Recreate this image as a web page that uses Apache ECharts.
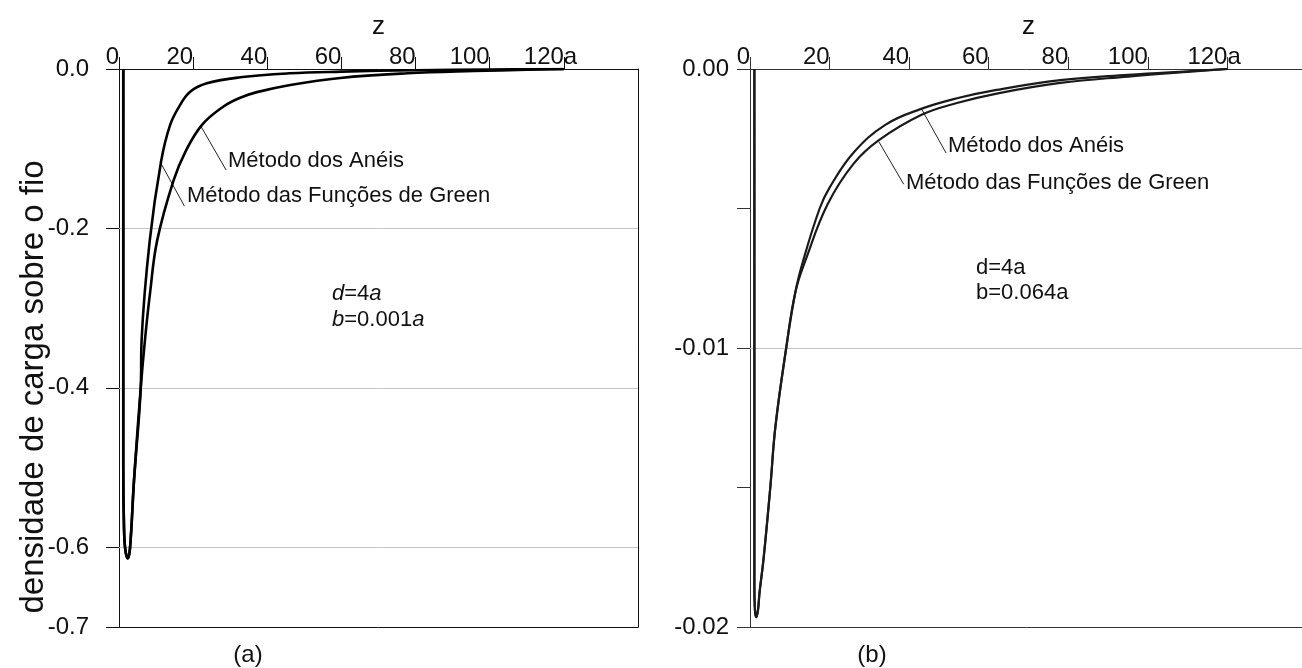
<!DOCTYPE html>
<html>
<head>
<meta charset="utf-8">
<script src="https://cdn.jsdelivr.net/npm/echarts@6/dist/echarts.min.js"></script>
<style>
  html, body { margin: 0; padding: 0; background: #fff; }
  #chart { width: 1302px; height: 668px; }
</style>
</head>
<body>
<div id="chart"></div>
<script>
// eixo z (comum aos dois painéis)
const zTicks = [0, 20, 40, 60, 80, 100, 120];
const zUnitAt = 120; // rótulo "120a"

// painel (a): b = 0.001a
const leftYLabels = [0, -0.2, -0.4, -0.6, -0.7];
const leftGridLines = [-0.2, -0.4, -0.6];
const leftHeadZ = [1.15, 1.15, 1.35, 1.7, 2.35, 2.97, 4.05, 5.86];
const leftHeadV = [0, -0.5, -0.575, -0.603, -0.614, -0.601, -0.516, -0.40];
const leftAneisZ = [7.0, 8.4, 10.3, 14.7, 18, 22.4, 28.2, 32.7, 37.2, 46.2, 59.7, 77.8, 95.7, 110, 120];
const leftAneisV = [-0.34, -0.28, -0.215, -0.140, -0.103, -0.070, -0.047, -0.036, -0.029, -0.020, -0.0112, -0.0054, -0.0025, -0.001, 0];
const leftGreenZ = [6.1, 8.3, 11.35, 13.8, 16.5, 19.2, 23.7, 32.7, 46, 60, 80, 100, 120];
const leftGreenV = [-0.34, -0.215, -0.116, -0.070, -0.045, -0.0285, -0.018, -0.0104, -0.0054, -0.0033, -0.0015, -0.0006, 0];

// painel (b): b = 0.064a
const rightYTicks = [0, -0.005, -0.01, -0.015, -0.02];
const rightYLabels = [0, -0.01, -0.02];
const rightGridLines = [-0.005, -0.01, -0.015];
const rightHeadZ = [1.1, 1.1, 1.25, 1.55, 2.0, 2.4, 3.4, 5.1, 6.4, 9.1, 11.4];
const rightHeadV = [0, -0.0185, -0.0194, -0.01965, -0.0194, -0.01876, -0.01757, -0.0150, -0.0128, -0.0100, -0.0080];
const rightAneisZ = [13.3, 17.5, 20, 26, 34, 43, 52, 62, 78, 95, 110, 120];
const rightAneisV = [-0.0069, -0.0050, -0.00425, -0.0030, -0.0020, -0.00143, -0.00105, -0.00075, -0.00040, -0.00021, -0.00008, 0];
const rightGreenZ = [14.1, 19.5, 26, 32.4, 43, 52, 62, 78, 95, 110, 120];
const rightGreenV = [-0.0068, -0.00485, -0.0034, -0.00255, -0.00165, -0.00122, -0.00088, -0.00050, -0.00027, -0.00010, 0];

const FONT = '"Liberation Sans", Arial, sans-serif';

function pairs(zs, vs) {
  return zs.map((z, i) => [z, vs[i]]);
}

function topAxis(gi, color) {
  return {
    gridIndex: gi, type: 'value', position: 'top', min: 0, max: 140,
    name: 'z', nameLocation: 'middle', nameGap: 28,
    nameTextStyle: { fontFamily: FONT, fontSize: 26, color: '#111' },
    axisLine: { onZero: false, lineStyle: { color: color, width: 1 } },
    axisTick: { customValues: zTicks, length: 12, lineStyle: { color: color } },
    axisLabel: {
      customValues: zTicks, align: 'right', margin: 0,
      fontFamily: FONT, fontSize: 24, color: '#111'
    },
    splitLine: { show: false }
  };
}

function frameX(gi, color) {
  return {
    gridIndex: gi, type: 'value', position: 'bottom', min: 0, max: 140,
    axisLine: { onZero: false, lineStyle: { color: color, width: 1 } },
    axisTick: { show: false }, axisLabel: { show: false }, splitLine: { show: false }
  };
}

function gridSeries(xi, yi, vals) {
  return {
    type: 'line', xAxisIndex: xi, yAxisIndex: yi, data: [], z: 1, silent: true,
    markLine: {
      silent: true, symbol: 'none', label: { show: false },
      lineStyle: { color: '#c4c4c4', width: 1, type: 'solid' },
      data: vals.map((v) => ({ yAxis: v }))
    }
  };
}

function curve(name, xi, yi, data, color, width, leader) {
  return {
    type: 'line', name: name, xAxisIndex: xi, yAxisIndex: yi, data: data,
    showSymbol: false, symbol: 'none', smooth: 0.4, z: 5,
    emphasis: { disabled: true },
    lineStyle: { color: color, width: width },
    markLine: {
      silent: true, symbol: 'none', label: { show: false },
      lineStyle: { color: '#222', width: 1, type: 'solid' },
      data: [[{ coord: leader[0] }, { coord: leader[1] }]]
    }
  };
}

function txt(x, y, text, size, extra) {
  return {
    type: 'text', x: x, y: y, silent: true,
    style: Object.assign({
      text: text, fontFamily: FONT, fontSize: size, fill: '#111',
      align: 'left', verticalAlign: 'middle'
    }, extra || {})
  };
}

const chart = echarts.init(document.getElementById('chart'));
chart.setOption({
  animation: false,
  backgroundColor: '#fff',
  grid: [
    { left: 119, top: 69, width: 519, height: 558, outerBoundsMode: 'none', containLabel: false },
    { left: 750, top: 69, width: 557, height: 558, outerBoundsMode: 'none', containLabel: false }
  ],
  xAxis: [topAxis(0, '#111'), frameX(0, '#111'), topAxis(1, '#333'), frameX(1, '#333')],
  yAxis: [
    {
      gridIndex: 0, type: 'value', min: -0.7, max: 0,
      axisLine: { show: true, onZero: false, lineStyle: { color: '#111' } },
      axisTick: { show: true, customValues: leftYLabels, length: 13, lineStyle: { color: '#111' } },
      axisLabel: {
        customValues: leftYLabels, margin: 30, fontFamily: FONT, fontSize: 24, color: '#111',
        formatter: (v) => v.toFixed(1)
      },
      splitLine: { show: false }
    },
    {
      gridIndex: 0, type: 'value', position: 'right', min: -0.7, max: 0,
      axisLine: { show: true, onZero: false, lineStyle: { color: '#111' } },
      axisTick: { show: false }, axisLabel: { show: false }, splitLine: { show: false }
    },
    {
      gridIndex: 1, type: 'value', min: -0.02, max: 0,
      axisLine: { show: true, onZero: false, lineStyle: { color: '#333' } },
      axisTick: { show: true, customValues: rightYTicks, length: 13, lineStyle: { color: '#333' } },
      axisLabel: {
        customValues: rightYLabels, margin: 21, fontFamily: FONT, fontSize: 24, color: '#111',
        formatter: (v) => v.toFixed(2)
      },
      splitLine: { show: false }
    }
  ],
  series: [
    gridSeries(0, 0, leftGridLines),
    gridSeries(2, 2, rightGridLines),
    curve('Método dos Anéis', 0, 0, pairs(leftHeadZ.concat(leftAneisZ), leftHeadV.concat(leftAneisV)),
      '#000', 2.6, [[21.9, -0.0703], [28.9, -0.1268]]),
    curve('Método das Funções de Green', 0, 0, pairs(leftHeadZ.concat(leftGreenZ), leftHeadV.concat(leftGreenV)),
      '#000', 2.6, [[11.08, -0.1164], [17.65, -0.172]]),
    curve('Método dos Anéis', 2, 2, pairs(rightHeadZ.concat(rightAneisZ), rightHeadV.concat(rightAneisV)),
      '#1a1a1a', 2.2, [[43.0, -0.001406], [49.3, -0.003015]]),
    curve('Método das Funções de Green', 2, 2, pairs(rightHeadZ.concat(rightGreenZ), rightHeadV.concat(rightGreenV)),
      '#1a1a1a', 2.2, [[32.36, -0.0026], [38.64, -0.00413]])
  ],
  graphic: [
    {
      type: 'text', x: 34, y: 387, rotation: Math.PI / 2, silent: true,
      style: {
        text: 'densidade de carga sobre o fio', fontFamily: FONT, fontSize: 33,
        fill: '#111', align: 'center', verticalAlign: 'middle'
      }
    },
    txt(228, 161, 'Método dos Anéis', 22),
    txt(187, 195.5, 'Método das Funções de Green', 22),
    txt(332, 294, '{i|d}=4{i|a}', 22, { rich: { i: { fontStyle: 'italic', fontFamily: FONT, fontSize: 22 } } }),
    txt(332, 319.6, '{i|b}=0.001{i|a}', 22, { rich: { i: { fontStyle: 'italic', fontFamily: FONT, fontSize: 22 } } }),
    txt(948, 145.5, 'Método dos Anéis', 22),
    txt(906, 182.5, 'Método das Funções de Green', 22),
    txt(976, 268, 'd=4a', 22),
    txt(976, 293, 'b=0.064a', 22),
    txt(248, 655, '(a)', 24, { align: 'center' }),
    txt(872, 655, '(b)', 24, { align: 'center' })
  ]
});

// unidade "a" logo após o rótulo 120 de cada eixo z
const unitMarks = [0, 2].map((xi) => {
  const px = chart.convertToPixel({ xAxisIndex: xi }, zUnitAt);
  return txt(px, 69, 'a', 24, { verticalAlign: 'bottom' });
});
chart.setOption({ graphic: unitMarks.map((g, i) => Object.assign({ id: 'unit' + i }, g)) });

window.addEventListener('resize', () => chart.resize());
</script>
</body>
</html>
